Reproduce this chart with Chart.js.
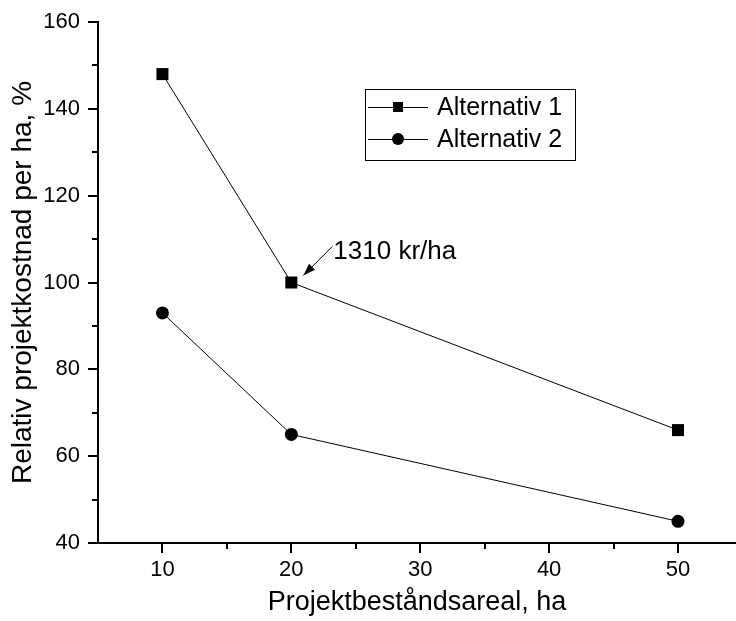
<!DOCTYPE html>
<html>
<head>
<meta charset="utf-8">
<script src="https://cdn.jsdelivr.net/npm/chart.js@4.4.1/dist/chart.umd.min.js"></script>
<style>
  html, body { margin: 0; padding: 0; background: #fff; overflow: hidden; }
  #wrap { width: 736px; height: 621px; }
  canvas { display: block; }
</style>
</head>
<body>
<div id="wrap"><canvas id="myChart" width="736" height="621"></canvas></div>
<script>
// values
const areaHa = [10, 20, 50];
const alt1 = [148, 100, 66];
const alt2 = [93, 65, 45];
const seriesNames = ['Alternativ 1', 'Alternativ 2'];
const xTicks = [10, 20, 30, 40, 50];
const yTicks = [40, 60, 80, 100, 120, 140, 160];
const xMinor = [15, 25, 35, 45];
const yMinor = [50, 70, 90, 110, 130, 150];
const noteText = '1310 kr/ha';

const FONT = 'Arial, "Liberation Sans", sans-serif';

function toPoints(xs, ys) {
  return xs.map((x, i) => ({ x: x, y: ys[i] }));
}

// minor ticks, legend box and the arrow note
const extras = {
  id: 'extras',
  afterDraw(chart) {
    const ctx = chart.ctx;
    const xs = chart.scales.x;
    const ys = chart.scales.y;
    const area = chart.chartArea;
    ctx.save();
    ctx.strokeStyle = '#000';
    ctx.lineWidth = 2;
    ctx.beginPath();
    xMinor.forEach((v) => {
      const px = Math.round(xs.getPixelForValue(v));
      ctx.moveTo(px, area.bottom);
      ctx.lineTo(px, area.bottom + 6);
    });
    yMinor.forEach((v) => {
      const py = Math.round(ys.getPixelForValue(v));
      ctx.moveTo(area.left, py);
      ctx.lineTo(area.left - 6, py);
    });
    ctx.stroke();

    // legend
    const lx = 365, ly = 89, lw = 210, lh = 71;
    ctx.lineWidth = 1;
    ctx.strokeRect(lx + 0.5, ly + 0.5, lw, lh);
    ctx.font = '25px ' + FONT;
    ctx.textBaseline = 'middle';
    ctx.fillStyle = '#000';
    chart.data.datasets.forEach((ds, i) => {
      const cy = ly + 18 + i * 32;
      ctx.beginPath();
      ctx.moveTo(lx + 3, cy + 0.5);
      ctx.lineTo(lx + 63, cy + 0.5);
      ctx.stroke();
      if (ds.pointStyle === 'rect') {
        ctx.fillRect(lx + 28, cy - 5, 10, 10);
      } else {
        ctx.beginPath();
        ctx.arc(lx + 33, cy, 6, 0, Math.PI * 2);
        ctx.fill();
      }
      ctx.fillText(ds.label, lx + 72, cy + 1);
    });

    // note with arrow pointing at alternativ 1, 20 ha
    const px = xs.getPixelForValue(areaHa[1]);
    const py = ys.getPixelForValue(alt1[1]);
    ctx.font = '26px ' + FONT;
    ctx.fillText(noteText, px + 42, py - 31);
    const tx = px + 12, ty = py - 7;
    const fx = px + 41, fy = py - 36;
    ctx.beginPath();
    ctx.moveTo(fx, fy);
    ctx.lineTo(tx, ty);
    ctx.stroke();
    const ang = Math.atan2(ty - fy, tx - fx);
    ctx.beginPath();
    ctx.moveTo(tx, ty);
    ctx.lineTo(tx - 13 * Math.cos(ang - 0.33), ty - 13 * Math.sin(ang - 0.33));
    ctx.lineTo(tx - 13 * Math.cos(ang + 0.33), ty - 13 * Math.sin(ang + 0.33));
    ctx.closePath();
    ctx.fill();
    ctx.restore();
  },
};

const data = {
  datasets: [
    {
      label: seriesNames[0],
      data: toPoints(areaHa, alt1),
      borderColor: '#000',
      backgroundColor: '#000',
      borderWidth: 1,
      pointStyle: 'rect',
      pointRadius: 8.5,
      pointBorderWidth: 0,
      showLine: true,
    },
    {
      label: seriesNames[1],
      data: toPoints(areaHa, alt2),
      borderColor: '#000',
      backgroundColor: '#000',
      borderWidth: 1,
      pointStyle: 'circle',
      pointRadius: 6.5,
      pointBorderWidth: 0,
      showLine: true,
    },
  ],
};

const config = {
  type: 'scatter',
  data,
  plugins: [extras],
  options: {
    responsive: false,
    animation: false,
    layout: { autoPadding: false, padding: { top: 22, right: 0, left: 0, bottom: 0 } },
    plugins: {
      legend: { display: false },
      tooltip: { enabled: false },
    },
    scales: {
      x: {
        type: 'linear',
        min: 5,
        max: 54.5,
        afterBuildTicks: (scale) => { scale.ticks = xTicks.map((v) => ({ value: v })); },
        afterFit: (scale) => {
          scale.height = 78;
          scale.paddingLeft = 0;
          scale.paddingRight = 0;
        },
        border: { display: true, color: '#000', width: 2 },
        grid: { drawOnChartArea: false, drawTicks: true, tickLength: 10, color: '#000', lineWidth: 2 },
        ticks: { color: '#000', padding: 4, font: { family: FONT, size: 22 } },
        title: {
          display: true,
          text: 'Projektbeståndsareal, ha',
          color: '#000',
          font: { family: FONT, size: 27 },
          padding: { top: 0, bottom: 2 },
        },
      },
      y: {
        type: 'linear',
        min: 40,
        max: 160,
        afterBuildTicks: (scale) => { scale.ticks = yTicks.map((v) => ({ value: v })); },
        afterFit: (scale) => { scale.width = 98; },
        border: { display: true, color: '#000', width: 2 },
        grid: { drawOnChartArea: false, drawTicks: true, tickLength: 10, color: '#000', lineWidth: 2 },
        ticks: { color: '#000', padding: 8, font: { family: FONT, size: 22 } },
        title: {
          display: true,
          text: 'Relativ projektkostnad per ha, %',
          color: '#000',
          font: { family: FONT, size: 28 },
          padding: { top: 6, bottom: 0 },
        },
      },
    },
  },
};

new Chart(document.getElementById('myChart'), config);
</script>
</body>
</html>
